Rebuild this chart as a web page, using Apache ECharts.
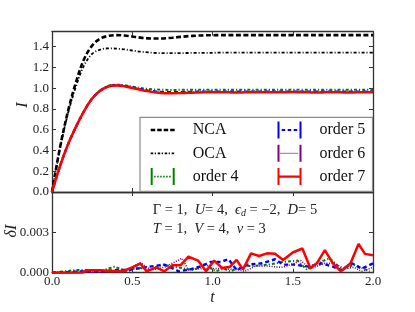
<!DOCTYPE html>
<html><head><meta charset="utf-8">
<script src="https://cdn.jsdelivr.net/npm/echarts@6/dist/echarts.min.js"></script>
<style>html,body{margin:0;padding:0;background:#fff}#c{width:415px;height:312px}</style>
</head><body><div id="c"></div>
<script>
// ---- top panel: current I(t) on a t-grid of 0.05 ----
const tGrid = [0,0.05,0.1,0.15,0.2,0.25,0.3,0.35,0.4,0.45,0.5,0.55,0.6,0.65,0.7,0.75,0.8,0.85,0.9,0.95,1.0,
  1.05,1.1,1.15,1.2,1.25,1.3,1.35,1.4,1.45,1.5,1.55,1.6,1.65,1.7,1.75,1.8,1.85,1.9,1.95,2.0];
const ncaI = [0,0.43,0.78,1.06,1.28,1.41,1.478,1.503,1.511,1.508,1.498,1.487,1.480,1.478,1.480,1.486,1.494,1.501,1.506,1.509,1.510,
  1.511,1.511,1.511,1.511,1.511,1.511,1.511,1.511,1.511,1.511,1.511,1.511,1.511,1.511,1.511,1.511,1.511,1.511,1.511,1.511];
const ocaI = [0,0.42,0.76,1.02,1.22,1.33,1.372,1.383,1.381,1.374,1.363,1.352,1.344,1.339,1.337,1.337,1.338,1.339,1.340,1.341,1.341,
  1.342,1.342,1.342,1.342,1.342,1.342,1.342,1.342,1.342,1.342,1.342,1.342,1.342,1.342,1.342,1.342,1.342,1.342,1.342,1.342];
const ord4I = [0,0.25,0.46,0.63,0.78,0.90,0.978,1.022,1.033,1.028,1.015,1.002,0.993,0.987,0.984,0.983,0.984,0.985,0.985,0.986,0.985,
  0.985,0.986,0.985,0.984,0.985,0.986,0.985,0.985,0.984,0.985,0.986,0.985,0.985,0.984,0.985,0.986,0.985,0.985,0.984,0.985];
const ord5I = [0,0.25,0.46,0.63,0.78,0.90,0.976,1.018,1.028,1.022,1.007,0.990,0.977,0.967,0.962,0.961,0.962,0.964,0.965,0.966,0.966,
  0.966,0.967,0.966,0.965,0.966,0.967,0.966,0.966,0.965,0.966,0.967,0.966,0.966,0.965,0.966,0.967,0.966,0.966,0.965,0.966];
const ord6I = [0,0.25,0.46,0.63,0.78,0.90,0.975,1.016,1.026,1.020,1.004,0.988,0.974,0.963,0.957,0.956,0.958,0.961,0.962,0.963,0.963,
  0.963,0.964,0.963,0.962,0.963,0.964,0.963,0.963,0.962,0.963,0.964,0.963,0.963,0.962,0.963,0.964,0.963,0.963,0.962,0.963];
const ord7I = [0,0.25,0.46,0.63,0.78,0.90,0.975,1.015,1.025,1.018,1.002,0.985,0.970,0.958,0.952,0.951,0.953,0.956,0.958,0.960,0.960,
  0.961,0.960,0.959,0.960,0.961,0.961,0.960,0.960,0.961,0.962,0.961,0.960,0.959,0.960,0.961,0.960,0.959,0.960,0.961,0.960];

// ---- bottom panel: deltaI ----
const t4 = [0,0.15,0.24,0.30,0.39,0.47,0.53,0.61,0.69,0.78,0.88,0.96,1.02,1.07,1.11,1.20,1.25,1.35,1.44,1.53,1.59,1.63,1.73,1.81,1.88,1.92,1.98];
const d4 = [0,0.0002,0.0002,0.0001,0.00045,0.0001,0.0004,0.0002,0.0006,0.0004,0.0002,0.0006,0.0001,0.0003,0.0001,0.0005,0.0005,0.0006,0.0008,0.0009,0.0002,0.0006,0.00107,0.0002,0.0006,0.0004,0.0001];
const t5 = [0,0.2,0.3,0.40,0.48,0.53,0.61,0.70,0.79,0.86,0.92,0.99,1.05,1.10,1.15,1.22,1.31,1.39,1.44,1.51,1.60,1.68,1.75,1.80,1.87,1.93,2.0];
const d5 = [0,0.0001,0.0001,0.0002,0.0002,0.0003,0.00045,0.0006,0.0001,0.00025,0.00045,0.0008,0.0008,0.001,0.0002,0.0006,0.0007,0.001,0.0006,0.0006,0.00045,0.0007,0.00045,0.0002,0.0007,0.0003,0.0007];
const t6 = [0,0.3,0.45,0.55,0.62,0.70,0.81,0.85,0.92,1.0,1.07,1.17,1.20,1.27,1.33,1.43,1.49,1.55,1.61,1.70,1.76,1.82,1.88,1.93,2.0];
const d6 = [0,0.00005,0.0001,0.00075,0.0002,0.0004,0.00107,0.0002,0.0003,0.0003,0.0003,0.0002,0.0001,0.0005,0.0005,0.0004,0.0006,0.0009,0.0003,0.0007,0.0007,0.0003,0.0004,0.0001,0.0004];
const t7 = [0,0.19,0.22,0.30,0.36,0.44,0.50,0.55,0.59,0.65,0.70,0.75,0.80,0.85,0.91,0.96,1.01,1.06,1.11,1.15,1.19,1.24,1.29,1.34,1.39,1.44,1.50,1.56,1.61,1.65,1.70,1.75,1.80,1.86,1.91,1.95,2.00];
const d7 = [0,0.00002,0.00018,0.00018,0.00012,0.00012,0.0004,0.00068,0.0001,0.0004,0.0001,0.00055,0.00055,0.0012,0.0009,0.0001,0.0009,0.00035,0.00045,0.00095,0.00025,0.00144,0.00124,0.00144,0.0014,0.00095,0.0015,0.0018,0.00033,0.0007,0.00168,0.0007,0.0001,0.0007,0.00213,0.0014,0.0013];

const xTicks = [0, 0.5, 1.0, 1.5, 2.0];
const seriesNames = ['NCA','OCA','order 4','order 5','order 6','order 7'];

const FONT = 'Liberation Serif';
const AX = '#333';
const pair = (ts, vs) => ts.map((t, i) => [t, vs[i]]);

const anchors = 'M0,0h0.01v0.01h-0.01z M36.99,16.99h0.01v0.01h-0.01z ';
const caps = 'M0,0h2v17h-2z M22,0h2v17h-2z ';
const icons = {
  'NCA': anchors + 'M0,7.2h4.5v2.6h-4.5z M6.5,7.2h4.5v2.6h-4.5z M13,7.2h4.5v2.6h-4.5z M19.5,7.2h4.5v2.6h-4.5z',
  'OCA': anchors + 'M0,7.6h2.5v1.8h-2.5z M4,7.6h1.2v1.8h-1.2z M7,7.6h2.5v1.8h-2.5z M11,7.6h1.2v1.8h-1.2z M14,7.6h2.5v1.8h-2.5z M18,7.6h1.2v1.8h-1.2z M21,7.6h2.5v1.8h-2.5z',
  'order 4': anchors + caps + 'M3.5,7.6h1.5v1.8h-1.5z M6.5,7.6h1.5v1.8h-1.5z M9.5,7.6h1.5v1.8h-1.5z M12.5,7.6h1.5v1.8h-1.5z M15.5,7.6h1.5v1.8h-1.5z M18.5,7.6h1.5v1.8h-1.5z',
  'order 5': anchors + caps + 'M4.2,7.4h3.5v2.2h-3.5z M10.2,7.4h3.5v2.2h-3.5z M16.2,7.4h3.5v2.2h-3.5z',
  'order 6': anchors + caps + 'M3,7.9h1v1.2h-1z M5,7.9h1v1.2h-1z M7,7.9h1v1.2h-1z M9,7.9h1v1.2h-1z M11,7.9h1v1.2h-1z M13,7.9h1v1.2h-1z M15,7.9h1v1.2h-1z M17,7.9h1v1.2h-1z M19,7.9h1v1.2h-1z',
  'order 7': anchors + caps + 'M2,7.3h20v2.4h-20z'
};

const styles = {
  'NCA': {color:'#000000', width:2.6, type:[5,2.5]},
  'OCA': {color:'#000000', width:1.8, type:[3,2,1,2]},
  'order 4': {color:'#008000', width:2, type:[3,2,1.2,2]},
  'order 5': {color:'#0000ff', width:2.4, type:[4,3]},
  'order 6': {color:'#800080', width:1.6, type:[1,1.5]},
  'order 7': {color:'#ff0000', width:2.5, type:'solid'}
};

function lineSeries(name, data, xi, yi, smooth) {
  const s = styles[name];
  return {
    name, type:'line', xAxisIndex:xi, yAxisIndex:yi, data,
    symbol:'none', showSymbol:false, smooth: smooth, animation:false,
    itemStyle:{color:s.color},
    lineStyle:{color:s.color, width:s.width, type:s.type, cap:'butt'},
    emphasis:{disabled:true}, silent:true
  };
}

const series = [
  lineSeries('NCA', pair(tGrid, ncaI), 0, 0, 0.35),
  lineSeries('OCA', pair(tGrid, ocaI), 0, 0, 0.35),
  lineSeries('order 4', pair(tGrid, ord4I), 0, 0, 0.35),
  lineSeries('order 5', pair(tGrid, ord5I), 0, 0, 0.35),
  lineSeries('order 6', pair(tGrid, ord6I), 0, 0, 0.35),
  lineSeries('order 7', pair(tGrid, ord7I), 0, 0, 0.35),
  lineSeries('order 4', pair(t4, d4), 2, 2, false),
  lineSeries('order 5', pair(t5, d5), 2, 2, false),
  lineSeries('order 6', pair(t6, d6), 2, 2, false),
  lineSeries('order 7', pair(t7, d7), 2, 2, false)
];

function xAxis(grid, pos, labels) {
  return {
    type:'value', gridIndex:grid, position:pos, min:xTicks[0], max:xTicks[xTicks.length-1], interval:0.5,
    axisLine:{show:true, onZero:false, lineStyle:{color:AX, width:1.3}},
    axisTick:{show:true, inside:true, length:4, lineStyle:{color:AX, width:1}},
    axisLabel:{show:labels, margin:2, color:'#222', fontFamily:FONT, fontSize:13, formatter:v=>v.toFixed(1)},
    splitLine:{show:false},
    name: labels ? 't' : '', nameLocation:'middle', nameGap:17,
    nameTextStyle:{fontFamily:FONT, fontSize:16, fontStyle:'italic', color:'#222'}
  };
}
function yAxis(grid, pos, max, interval, digits, labels) {
  return {
    type:'value', gridIndex:grid, position:pos, min:0, max:max, interval:interval,
    axisLine:{show:true, onZero:false, lineStyle:{color:AX, width:1.3}},
    axisTick:{show:true, inside:true, length:4, lineStyle:{color:AX, width:1}},
    axisLabel:{show:labels, margin:3, color:'#222', fontFamily:FONT, fontSize:13, showMaxLabel:false,
      formatter:v=>v.toFixed(digits)},
    splitLine:{show:false}
  };
}

function legend(names, left) {
  return {
    data: names.map(n => ({name:n, icon:'path://' + icons[n]})),
    left:left, top:121.5, orient:'vertical', padding:0,
    itemWidth:37, itemHeight:17, itemGap:6.3, selectedMode:false, z:6,
    itemStyle:{borderWidth:0},
    textStyle:{fontFamily:FONT, fontSize:16, color:'#111', lineHeight:17}
  };
}

const chart = echarts.init(document.getElementById('c'), null, {renderer:'canvas'});
chart.setOption({
  animation:false,
  backgroundColor:'#fff',
  grid:[
    {left:52, top:31.7, width:321, height:160.3, containLabel:false, outerBoundsMode:'none'},
    {left:52, top:192, width:321, height:80.7, containLabel:false, outerBoundsMode:'none'}
  ],
  xAxis:[xAxis(0,'bottom',false), xAxis(0,'top',false), xAxis(1,'bottom',true), xAxis(1,'top',false)],
  yAxis:[
    yAxis(0,'left',1.544,0.2,1,true),
    yAxis(0,'right',1.544,0.2,1,false),
    yAxis(1,'left',0.006,0.003,3,true),
    yAxis(1,'right',0.006,0.003,3,false)
  ],
  legend:[legend(seriesNames.slice(0,3), 150.7), legend(seriesNames.slice(3), 277.5)],
  graphic:[
    {type:'rect', z:5, shape:{x:140, y:117.3, width:232.5, height:74}, style:{fill:'#fff', stroke:'#8c8c8c', lineWidth:1.2}},
    {type:'text', z:5, x:23, y:105, rotation:Math.PI/2, style:{
      text:'I', align:'center', verticalAlign:'middle', fontFamily:FONT, fontSize:16, fontStyle:'italic', fill:'#222'}},
    {type:'text', z:5, x:12, y:231, rotation:Math.PI/2, style:{
      text:'δI', align:'center', verticalAlign:'middle', fontFamily:FONT, fontSize:16, fontStyle:'italic', fill:'#222'}},
    {type:'text', z:5, x:152.7, y:210, style:{
      text:'{r|Γ = 1,  }{i|U}{r|= 4,  }{i|ϵ}{s|d}{r| = −2,  }{i|D}{r|= 5}', verticalAlign:'middle',
      rich:{r:{fontFamily:FONT, fontSize:14.5, fill:'#222'}, i:{fontFamily:FONT, fontSize:14.5, fontStyle:'italic', fill:'#222'},
            s:{fontFamily:FONT, fontSize:10, fontStyle:'italic', fill:'#222', verticalAlign:'bottom', padding:[6,0,0,0]}}}},
    {type:'text', z:5, x:152.7, y:229.3, style:{
      text:'{i|T}{r| = 1,  }{i|V}{r| = 4,  }{i|ν}{r| = 3}', verticalAlign:'middle',
      rich:{r:{fontFamily:FONT, fontSize:14.5, fill:'#222'}, i:{fontFamily:FONT, fontSize:14.5, fontStyle:'italic', fill:'#222'}}}}
  ],
  series
});
</script></body></html>
